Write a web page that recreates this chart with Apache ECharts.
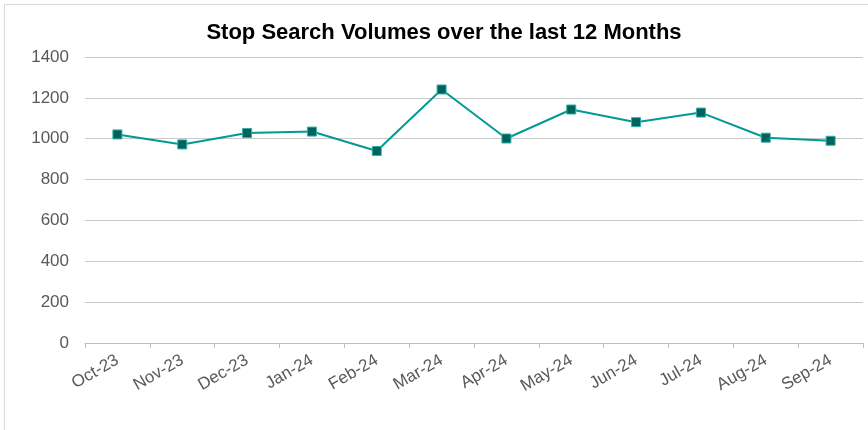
<!DOCTYPE html>
<html>
<head>
<meta charset="utf-8">
<script src="https://cdn.jsdelivr.net/npm/echarts@6/dist/echarts.min.js"></script>
<style>
  html, body { margin: 0; padding: 0; background: #fff; }
  #wrap { position: relative; width: 868px; height: 430px; overflow: hidden; }
  #frame { position: absolute; left: 4px; top: 4px; width: 880px; height: 440px; border: 1px solid #d9d9d9; box-sizing: border-box; }
  #chart { position: absolute; left: 0; top: 0; width: 868px; height: 430px; }
</style>
</head>
<body>
<div id="wrap">
  <div id="frame"></div>
  <div id="chart"></div>
</div>
<script>
const months = ['Oct-23', 'Nov-23', 'Dec-23', 'Jan-24', 'Feb-24', 'Mar-24', 'Apr-24', 'May-24', 'Jun-24', 'Jul-24', 'Aug-24', 'Sep-24'];
const volumes = [1021, 972, 1028, 1035, 940, 1241, 1001, 1143, 1081, 1128, 1005, 990];

const chart = echarts.init(document.getElementById('chart'));

const option = {
  animation: false,
  title: {
    text: 'Stop Search Volumes over the last 12 Months',
    left: 439,
    textAlign: 'center',
    top: 17,
    textStyle: { fontFamily: 'Liberation Sans, Arial', fontSize: 22, fontWeight: 'bold', color: '#000' }
  },
  grid: { left: 85, right: 5, top: 57, bottom: 87, containLabel: false },
  xAxis: {
    type: 'category',
    data: months,
    boundaryGap: true,
    axisLine: { lineStyle: { color: '#bfbfbf', width: 1 } },
    axisTick: { show: true, length: 5, lineStyle: { color: '#bfbfbf' } },
    axisLabel: {
      rotate: 30,
      margin: 16,
      fontFamily: 'Liberation Sans, Arial',
      fontSize: 17,
      color: '#595959'
    }
  },
  yAxis: {
    type: 'value',
    min: 0,
    max: 1400,
    interval: 200,
    axisLine: { show: false },
    axisTick: { show: false },
    splitLine: { lineStyle: { color: '#c9c9c9', width: 1 } },
    axisLabel: {
      margin: 16,
      formatter: v => String(v),
      fontFamily: 'Liberation Sans, Arial',
      fontSize: 17,
      color: '#595959'
    }
  },
  series: [{
    type: 'line',
    data: volumes,
    symbol: 'rect',
    symbolSize: 9,
    lineStyle: { color: '#009b95', width: 2 },
    itemStyle: { color: '#00625c', borderColor: '#2fb0a8', borderWidth: 1 }
  }]
};

chart.setOption(option);
</script>
</body>
</html>
